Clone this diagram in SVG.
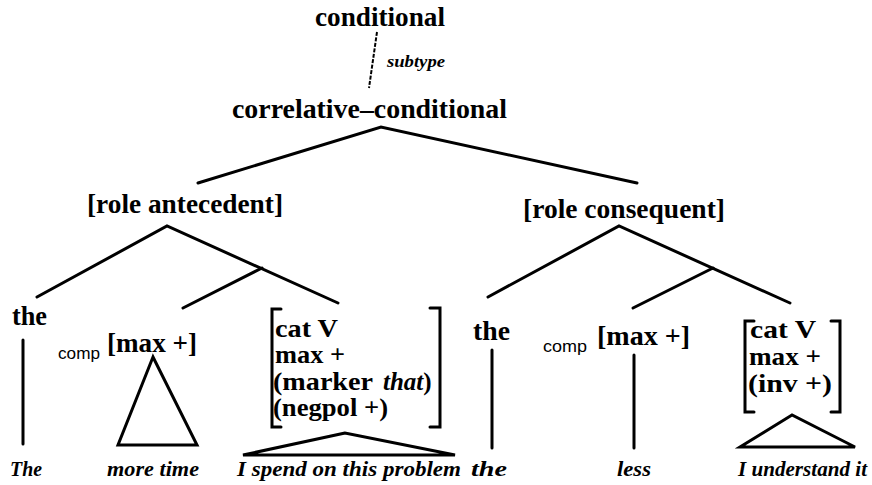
<svg xmlns="http://www.w3.org/2000/svg" width="872" height="485" viewBox="0 0 872 485">
<style>
.b{font-family:"Liberation Serif","Times New Roman",serif;font-weight:bold;font-size:27px;fill:#000}
.bs{font-family:"Liberation Serif","Times New Roman",serif;font-weight:bold;font-size:25px;fill:#000}
.it{font-family:"Liberation Serif","Times New Roman",serif;font-style:italic;font-weight:bold;font-size:22px;fill:#000}
.sub{font-family:"Liberation Serif","Times New Roman",serif;font-style:italic;font-weight:bold;font-size:16px;fill:#000}
.cmp{font-family:"Liberation Sans",Arial,sans-serif;font-size:17px;fill:#000}
.ln{stroke:#000;stroke-width:3;fill:none;stroke-linecap:round;stroke-linejoin:miter}
.dash{stroke:#000;stroke-width:2;fill:none;stroke-dasharray:4 1.5}
</style>
<rect width="872" height="485" fill="#fff"/>

<g id="connectors">
  <line class="dash" x1="377" y1="32" x2="369" y2="88"/>
  <polyline class="ln" points="198,183 381,127 637,183"/>
  <polyline class="ln" points="37,297 167,226 338,303"/>
  <line class="ln" x1="262" y1="268" x2="183" y2="308"/>
  <polyline class="ln" points="488,297 619,226 790,303"/>
  <line class="ln" x1="713" y1="268" x2="633" y2="308"/>
  <line class="ln" x1="23" y1="340" x2="23" y2="444"/>
  <line class="ln" x1="492" y1="350" x2="492" y2="448"/>
  <line class="ln" x1="634" y1="355" x2="634" y2="448"/>
  <polygon class="ln" points="153,357 118,445 197,445"/>
  <polygon class="ln" points="345,433 243,455 455,455"/>
  <polygon class="ln" points="792,415 740,447 855,447"/>
</g>

<g id="conditional">
  <text class="b" x="315" y="26" textLength="130" lengthAdjust="spacingAndGlyphs">conditional</text>
</g>
<g id="subtype-label">
  <text class="sub" x="387" y="67" textLength="58" lengthAdjust="spacingAndGlyphs">subtype</text>
</g>
<g id="correlative-conditional">
  <text class="b" x="232" y="118" textLength="275" lengthAdjust="spacingAndGlyphs">correlative–conditional</text>
</g>
<g id="role-antecedent">
  <text class="b" x="87" y="213" textLength="196" lengthAdjust="spacingAndGlyphs">[role antecedent]</text>
</g>
<g id="role-consequent">
  <text class="b" x="523" y="218" textLength="202" lengthAdjust="spacingAndGlyphs">[role consequent]</text>
</g>

<g id="the-left">
  <text class="b" x="12" y="325" textLength="35" lengthAdjust="spacingAndGlyphs">the</text>
</g>
<g id="comp-max-left">
  <text class="cmp" x="58" y="359" textLength="42" lengthAdjust="spacingAndGlyphs">comp</text>
  <text class="b" x="107" y="352" textLength="90" lengthAdjust="spacingAndGlyphs">[max +]</text>
</g>
<g id="cat-v-left">
  <path class="ln" d="M281,309 H272 V427 H281"/>
  <path class="ln" d="M430,308 H440 V427 H430"/>
  <text class="bs" x="275" y="337" textLength="63" lengthAdjust="spacingAndGlyphs">cat V</text>
  <text class="bs" x="275" y="363" textLength="70" lengthAdjust="spacingAndGlyphs">max +</text>
  <text class="bs" x="273" y="390"><tspan textLength="100" lengthAdjust="spacingAndGlyphs">(marker</tspan><tspan x="383" font-style="italic">that</tspan><tspan>)</tspan></text>
  <text class="bs" x="273" y="416" textLength="115" lengthAdjust="spacingAndGlyphs">(negpol +)</text>
</g>

<g id="the-right">
  <text class="b" x="473" y="340" textLength="37" lengthAdjust="spacingAndGlyphs">the</text>
</g>
<g id="comp-max-right">
  <text class="cmp" x="543" y="352" textLength="44" lengthAdjust="spacingAndGlyphs">comp</text>
  <text class="b" x="597" y="345" textLength="93" lengthAdjust="spacingAndGlyphs">[max +]</text>
</g>
<g id="cat-v-right">
  <path class="ln" d="M754,321 H745 V412 H754"/>
  <path class="ln" d="M831,321 H840 V412 H831"/>
  <text class="bs" x="750" y="338" textLength="66" lengthAdjust="spacingAndGlyphs">cat V</text>
  <text class="bs" x="749" y="365" textLength="72" lengthAdjust="spacingAndGlyphs">max +</text>
  <text class="bs" x="748" y="392" textLength="84" lengthAdjust="spacingAndGlyphs">(inv +)</text>
</g>

<g id="words">
  <text class="it" x="10" y="476" textLength="32" lengthAdjust="spacingAndGlyphs">The</text>
  <text class="it" x="107" y="476" textLength="92" lengthAdjust="spacingAndGlyphs">more time</text>
  <text class="it" x="237" y="476" textLength="224" lengthAdjust="spacingAndGlyphs">I spend on this problem</text>
  <text class="it" x="471" y="476" textLength="36" lengthAdjust="spacingAndGlyphs">the</text>
  <text class="it" x="617" y="476" textLength="34" lengthAdjust="spacingAndGlyphs">less</text>
  <text class="it" x="738" y="476" textLength="129" lengthAdjust="spacingAndGlyphs">I understand it</text>
</g>
</svg>
